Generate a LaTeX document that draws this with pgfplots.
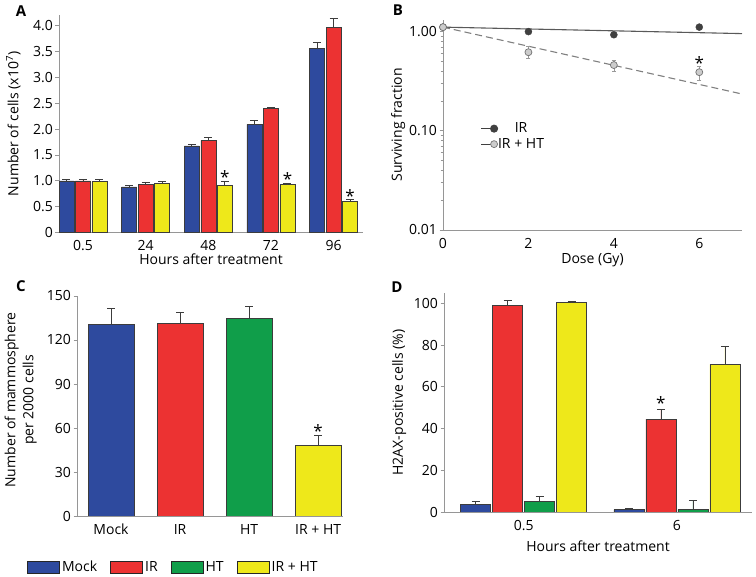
\documentclass[border=0pt]{standalone}
\usepackage{fontspec}
\setmainfont{Open Sans}
\usepackage{pgfplots}
\pgfplotsset{compat=1.18}
\definecolor{cblue}{RGB}{46,74,158}
\definecolor{cred}{RGB}{236,50,50}
\definecolor{cgreen}{RGB}{16,158,74}
\definecolor{cyellow}{RGB}{238,232,26}
\definecolor{axgray}{RGB}{150,150,150}
\definecolor{edge}{RGB}{60,60,60}
\newcommand{\fs}{\fontsize{14}{16}\selectfont}
\newcommand{\astf}{\fontsize{17}{17}\selectfont}
\pgfplotsset{
  base/.style={
    scale only axis,
    anchor=south west,
    axis x line*=bottom, axis y line*=left,
    axis line style={draw=axgray, line width=0.9pt},
    every tick/.style={draw=axgray, line width=0.8pt},
    every x tick/.style={draw=none},
    tick align=outside,
    major tick length=3.5pt,
    minor tick length=2.5pt,
    font=\fs,
    tick label style={font=\fs},
    label style={font=\fs},
    /pgf/number format/assume math mode=true,
    xticklabel style={yshift=-1pt},
    yticklabel style={xshift=1pt},
    error bars/error bar style={draw=edge, line width=0.7pt},
    error bars/error mark options={rotate=90, mark size=4pt, draw=edge, line width=0.7pt},
  },
  bstyle/.style={fill=#1, draw=edge, line width=0.5pt},
  legbox/.style={legend image code/.code={\draw[##1, line width=1pt, draw=black!85] (0pt,-6pt) rectangle (32pt,6pt);}},
  errp/.style={error bars/.cd, y dir=plus, y explicit},
}
\begin{document}
\begin{tikzpicture}
\useasboundingbox (0,0) rectangle (756pt,577pt);
% ---------------- A
\begin{axis}[base, at={(59pt,344.3pt)}, width=304pt, height=217.7pt,
  ybar=1.5pt, bar width=15pt,
  xmin=-0.383, xmax=4.47, ymin=0, ymax=4.2,
  xtick={0,1,2,3,4}, xticklabels={0.5,24,48,72,96},
  ytick={0,0.5,1,1.5,2,2.5,3,3.5,4}, yticklabels={0,0.5,1.0,1.5,2.0,2.5,3.0,3.5,4.0},
  xlabel={Hours after treatment},
  ylabel={Number of cells (x10\textsuperscript{7})},
  every axis x label/.style={at={(axis description cs:0.5,0)}, anchor=center, yshift=-27pt},
  every axis y label/.style={at={(axis description cs:-0.150,0.5)}, anchor=center, rotate=90},
]
\addplot[bstyle=cblue, errp] coordinates {(0,1.0) +- (0,0.03) (1,0.886) +- (0,0.02) (2,1.676) +- (0,0.02) (3,2.09) +- (0,0.08) (4,3.56) +- (0,0.11)};
\addplot[bstyle=cred, errp] coordinates {(0,1.0) +- (0,0.025) (1,0.93) +- (0,0.05) (2,1.78) +- (0,0.06) (3,2.395) +- (0,0.025) (4,3.955) +- (0,0.185)};
\addplot[bstyle=cyellow, errp] coordinates {(0,0.99) +- (0,0.04) (1,0.957) +- (0,0.04) (2,0.91) +- (0,0.08) (3,0.93) +- (0,0.02) (4,0.597) +- (0,0.04)};
\node[font=\astf] at (axis cs:2.264,1.07) {*};
\node[font=\astf] at (axis cs:3.264,1.04) {*};
\node[font=\astf] at (axis cs:4.264,0.71) {*};
\end{axis}
% ---------------- B
\begin{axis}[base, at={(443pt,347pt)}, width=299pt, height=210pt,
  ymode=log, xmin=0, xmax=7, ymin=0.01, ymax=1.31,
  xtick={0,2,4,6}, ytick={0.01,0.1,1}, yticklabels={0.01,0.10,1.00},
  minor ytick={0.02,0.03,0.04,0.05,0.06,0.07,0.08,0.09,0.2,0.3,0.4,0.5,0.6,0.7,0.8,0.9},
  xlabel={Dose (Gy)}, ylabel={Surviving fraction},
  every axis x label/.style={at={(axis description cs:0.5,0)}, anchor=center, yshift=-30pt},
  every axis y label/.style={at={(axis description cs:-0.150,0.5)}, anchor=center, rotate=90},
  legend style={at={(0.115,0.53)}, anchor=north west, draw=none, fill=none, font=\fs, row sep=0pt,
    nodes={inner xsep=0.5pt}},
  legend image code/.code={\draw[#1, mark repeat=2, mark phase=2] plot coordinates {(0pt,0pt) (13pt,0pt)};},
]
\addlegendimage{draw=black!75, line width=1pt, mark=*, mark size=3.5pt, mark options={fill=black!75, draw=black!75}}
\addlegendentry{IR}
\addlegendimage{draw=black!75, line width=1pt, mark=*, mark size=3.5pt, mark options={fill=black!20, draw=black!55, line width=0.7pt}}
\addlegendentry{IR + HT}
\addplot[forget plot, draw=black!65, line width=1.1pt] coordinates {(0,1.11) (7,0.955)};
\addplot[forget plot, draw=black!50, line width=1.1pt, dash pattern=on 7pt off 4pt] coordinates {(0,1.11) (7,0.235)};
\addplot[forget plot, only marks, mark=*, mark size=3.5pt, mark options={fill=black!75, draw=black!75}] coordinates {(0,1.11) (2,1.0) (4,0.93) (6,1.11)};
\addplot[forget plot, only marks, mark=*, mark size=3.5pt, mark options={fill=black!20, draw=black!55, line width=0.7pt},
  error bars/.cd, y dir=both, y explicit,
  error bar style={draw=black!40, line width=0.7pt},
  error mark options={rotate=90, mark size=2pt, draw=black!40}]
  coordinates {(0,1.11) (2,0.62) += (0,0.085) -= (0,0.08) (4,0.46) += (0,0.06) -= (0,0.06) (6,0.39) += (0,0.06) -= (0,0.065)};
\node[font=\astf] at (axis cs:6,0.485) {*};
\end{axis}
% ---------------- C
\begin{axis}[base, at={(77pt,61pt)}, width=266pt, height=220pt,
  ybar, bar width=46pt,
  xmin=-0.493, xmax=3.36, ymin=0, ymax=150,
  xtick={0,1,2,3}, xticklabels={Mock,IR,HT,IR + HT},
  ytick={0,30,60,90,120,150},
  ylabel={Number of mammosphere\\per 2000 cells},
  every axis y label/.style={at={(axis description cs:-0.212,0.527)}, anchor=center, rotate=90, align=center, font=\fontsize{14}{18}\selectfont},
  legend style={at={(-0.2,-0.232)}, anchor=west, draw=none, fill=none, font=\fs, legend columns=4,
    /tikz/every even column/.append style={column sep=11pt}},
]
\addplot[bstyle=cblue, bar shift=0pt, legbox, errp] coordinates {(0,130.7) +- (0,11.1)};
\addlegendentry{Mock}
\addplot[bstyle=cred, bar shift=0pt, legbox, errp] coordinates {(1,131.4) +- (0,7.2)};
\addlegendentry{IR}
\addplot[bstyle=cgreen, bar shift=0pt, legbox, errp] coordinates {(2,134.8) +- (0,8.2)};
\addlegendentry{HT}
\addplot[bstyle=cyellow, bar shift=0pt, legbox, errp] coordinates {(3,48.4) +- (0,6.6)};
\addlegendentry{IR + HT}
\node[font=\astf] at (axis cs:3,57.8) {*};
\end{axis}
% ---------------- D
\begin{axis}[base, at={(444pt,65pt)}, width=308pt, height=219pt,
  ybar=2pt, bar width=30pt,
  xmin=-0.52, xmax=1.49, ymin=0, ymax=105,
  xtick={0,1}, xticklabels={0.5,6},
  ytick={0,20,40,60,80,100},
  xlabel={Hours after treatment}, ylabel={H2AX-positive cells (\%)},
  every axis x label/.style={at={(axis description cs:0.5,0)}, anchor=center, yshift=-34pt},
  every axis y label/.style={at={(axis description cs:-0.145,0.5)}, anchor=center, rotate=90},
]
\addplot[bstyle=cblue, errp] coordinates {(0,3.5) +- (0,1.6) (1,1.1) +- (0,0.5)};
\addplot[bstyle=cred, errp] coordinates {(0,98.9) +- (0,2.7) (1,44.5) +- (0,4.9)};
\addplot[bstyle=cgreen, errp] coordinates {(0,5.1) +- (0,2.4) (1,1.1) +- (0,4.3)};
\addplot[bstyle=cyellow, errp] coordinates {(0,100.5) +- (0,0.6) (1,70.8) +- (0,8.8)};
\node[font=\astf] at (axis cs:0.895,52) {*};
\end{axis}
% panel letters
\node[font=\fontsize{15}{15}\selectfont\bfseries] at (21pt,566pt) {A};
\node[font=\fontsize{15}{15}\selectfont\bfseries] at (398pt,567pt) {B};
\node[font=\fontsize{15}{15}\selectfont\bfseries] at (21pt,291pt) {C};
\node[font=\fontsize{15}{15}\selectfont\bfseries] at (397pt,290pt) {D};
\end{tikzpicture}
\end{document}
